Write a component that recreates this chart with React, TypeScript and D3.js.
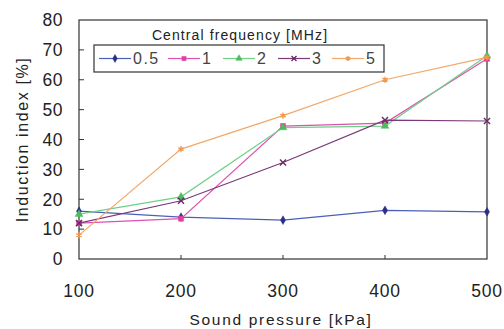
import * as d3 from 'd3';

const pressures = [100, 200, 300, 400, 500];
const seriesNames = ['0.5', '1', '2', '3', '5'];
const f05 = [16, 14, 13, 16.3, 15.8];
const f1 = [12, 13.5, 44.5, 45.5, 67];
const f2 = [15, 20.8, 44, 44.5, 68];
const f3 = [12, 19.5, 32.3, 46.5, 46.2];
const f5 = [8, 36.8, 48, 60, 67.5];
const yTicks = [0, 10, 20, 30, 40, 50, 60, 70, 80];

const seriesValues = [f05, f1, f2, f3, f5];
const lineColors = ['#4a5fb8', '#e050b0', '#6fd08a', '#7a3a78', '#f2a868'];
const markColors = ['#2a2f86', '#e0409c', '#4cbc5c', '#6a2a66', '#f09a50'];
const symbols = [d3.symbolDiamond, d3.symbolSquare, d3.symbolTriangle, d3.symbolTimes, d3.symbolAsterisk];
const strokeSym = [false, false, false, true, true];
const legendX = [99, 168, 223, 278, 332];

const W = 504;
const H = 329;
const m = { left: 79, right: 17, top: 20, bottom: 70 };

function Marker({ s, cx, cy, size }: { s: number; cx: number; cy: number; size: number }) {
  return (
    <path
      transform={`translate(${cx},${cy})`}
      d={d3.symbol(symbols[s], size)() as string}
      fill={strokeSym[s] ? 'none' : markColors[s]}
      stroke={markColors[s]}
      strokeWidth={strokeSym[s] ? 1.4 : 0.5}
    />
  );
}

export default function App() {
  const x = d3.scaleLinear().domain([100, 500]).range([m.left, W - m.right]);
  const y = d3.scaleLinear().domain([0, 80]).range([H - m.bottom, m.top]);
  const line = d3
    .line<number>()
    .x((_, i) => x(pressures[i]))
    .y((d) => y(d));
  const font = 'Liberation Sans, Arial, sans-serif';

  return (
    <svg width={W} height={H} style={{ position: 'absolute', left: 0, top: 0, background: '#fff' }} fontFamily={font}>
      <rect x={m.left} y={m.top} width={W - m.left - m.right} height={H - m.top - m.bottom} fill="none" stroke="#333" strokeWidth={1.2} />
      {yTicks.map((t) => (
        <g key={t}>
          {t > 0 && t < 80 && <line x1={m.left} x2={m.left + 5} y1={y(t)} y2={y(t)} stroke="#333" />}
          <text x={63} y={y(t)} dy="0.36em" textAnchor="end" fontSize={17.5} letterSpacing={0.5} fill="#222">
            {t}
          </text>
        </g>
      ))}
      {pressures.map((p) => (
        <g key={p}>
          {p > 100 && p < 500 && <line x1={x(p)} x2={x(p)} y1={y(0)} y2={y(0) - 4} stroke="#333" />}
          <text x={x(p)} y={297} textAnchor="middle" fontSize={17.5} letterSpacing={0.8} fill="#222">
            {p}
          </text>
        </g>
      ))}
      <text x={281} y={325} textAnchor="middle" fontSize={15.5} letterSpacing={1.7} fill="#222">
        Sound pressure [kPa]
      </text>
      <text transform={`translate(28,${y(40)}) rotate(-90)`} textAnchor="middle" fontSize={16} letterSpacing={1.6} fill="#222">
        Induction index [%]
      </text>
      {seriesValues.map((vals, s) => (
        <g key={s}>
          <path d={line(vals) as string} fill="none" stroke={lineColors[s]} strokeWidth={1.2} />
          {vals.map((v, i) => (
            <Marker key={i} s={s} cx={x(pressures[i])} cy={y(v)} size={s === 0 ? 22 : 26} />
          ))}
        </g>
      ))}
      <text x={240} y={40} textAnchor="middle" fontSize={14} letterSpacing={1.1} fill="#222">
        Central frequency [MHz]
      </text>
      <rect x={94} y={45} width={290} height={27} fill="#fff" stroke="#333" strokeWidth={1.2} />
      {seriesNames.map((n, s) => {
        const lx = legendX[s];
        const ly = 58.5;
        return (
          <g key={n}>
            <line x1={lx} x2={lx + 32} y1={ly} y2={ly} stroke={lineColors[s]} strokeWidth={1.2} />
            <Marker s={s} cx={lx + 16} cy={ly} size={18} />
            <text x={lx + 34} y={ly} dy="0.36em" fontSize={16} letterSpacing={1.5} fill="#444">
              {n}
            </text>
          </g>
        );
      })}
    </svg>
  );
}
